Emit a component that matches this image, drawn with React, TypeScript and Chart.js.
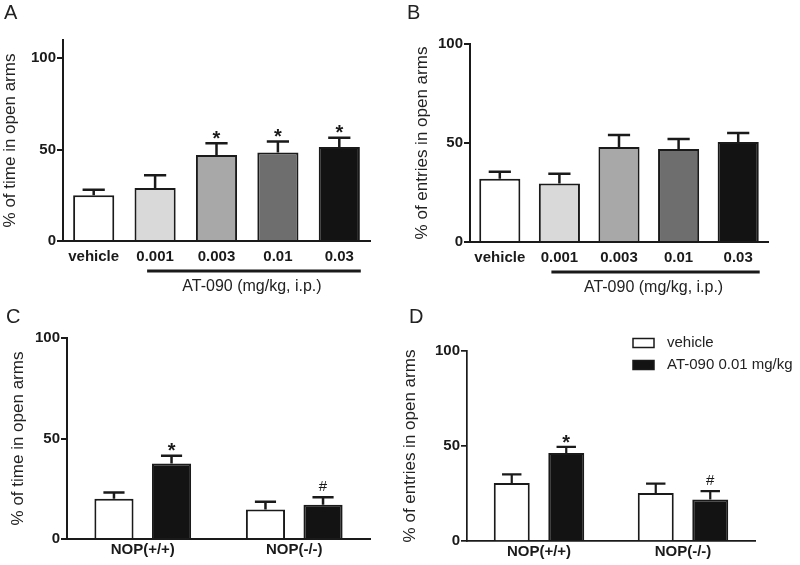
import React, { useEffect, useRef } from 'react';
import { Chart, registerables } from 'chart.js';

Chart.register(...registerables);

// ---------- data ----------
const doseLabels = ['vehicle', '0.001', '0.003', '0.01', '0.03'];
const doseColors = ['#ffffff', '#d9d9d9', '#a8a8a8', '#6e6e6e', '#131313'];

const timeMeans = [25, 29, 47, 48.5, 51.5];
const timeSem = [3, 7, 6.5, 6, 5];
const timeMarks = ['', '', '*', '*', '*'];

const entryMeans = [32, 29.5, 48, 47, 50.5];
const entrySem = [3.5, 5, 6, 5, 4.5];
const entryMarks = ['', '', '', '', ''];

const genotypeLabels = ['NOP(+/+)', 'NOP(-/-)'];
const groupNames = ['vehicle', 'AT-090 0.01 mg/kg'];
const groupColors = ['#ffffff', '#131313'];

const genoTimeVehicle = [20, 14.7];
const genoTimeVehicleSem = [3.1, 3.8];
const genoTimeAT = [37.6, 17];
const genoTimeATSem = [3.8, 3.8];

const genoEntryVehicle = [30.5, 25.3];
const genoEntryVehicleSem = [4.6, 4.9];
const genoEntryAT = [46.3, 21.9];
const genoEntryATSem = [3.2, 4.3];

const genoVehicleMarks = ['', ''];
const genoATMarks = ['*', '#'];

const yTicks = [0, 50, 100];
const doseAxisTitle = 'AT-090 (mg/kg, i.p.)';

// ---------- style ----------
const INK = '#1a1a1a';
const FONT = "'Liberation Sans', Arial, Helvetica, sans-serif";
const W = 800;
const H = 565;
const XH = 30;

type Panel = {
  letter: string; letterX: number; letterY: number;
  scaleLeft: number; axisX: number; right: number; top: number; bottom: number;
  yMax: number; title: string; xPad: number; lw: number;
  doseBar: boolean; legend: boolean;
  catPct: number; barPct: number;
};

function annotPlugin(p: Panel) {
  return {
    id: 'annot' + p.letter,
    afterDatasetsDraw(chart: any) {
      const ctx = chart.ctx;
      const y = chart.scales.y;
      ctx.save();
      ctx.strokeStyle = INK;
      ctx.lineWidth = p.lw + 0.5;
      ctx.lineCap = 'butt';
      chart.data.datasets.forEach((ds: any, di: number) => {
        const meta = chart.getDatasetMeta(di);
        meta.data.forEach((bar: any, i: number) => {
          const v = ds.data[i];
          const e = ds.sem[i];
          const x = bar.x;
          const w = bar.width;
          const yTop = y.getPixelForValue(v);
          const yErr = y.getPixelForValue(v + e);
          ctx.beginPath();
          ctx.moveTo(x, yTop);
          ctx.lineTo(x, yErr);
          ctx.moveTo(x - w * 0.27, yErr);
          ctx.lineTo(x + w * 0.27, yErr);
          ctx.stroke();
          const m = ds.marks ? ds.marks[i] : '';
          if (m) {
            ctx.fillStyle = INK;
            ctx.textAlign = 'center';
            ctx.textBaseline = 'alphabetic';
            if (m === '*') {
              const fs = 20;
              ctx.font = `bold ${fs}px ${FONT}`;
              ctx.fillText(m, x, yErr - 10 + 0.58 * fs);
            } else {
              const fs = 15;
              ctx.font = `${fs}px ${FONT}`;
              ctx.fillText(m, x, yErr - 12 + 0.36 * fs);
            }
          }
        });
      });
      ctx.restore();
    },
    afterDraw(chart: any) {
      const ctx = chart.ctx;
      const xs = chart.scales.x;
      ctx.save();
      ctx.fillStyle = '#222';
      ctx.textBaseline = 'alphabetic';
      ctx.textAlign = 'left';
      ctx.font = `20px ${FONT}`;
      ctx.fillText(p.letter, p.letterX, p.letterY);
      if (p.doseBar) {
        const x1 = xs.getPixelForValue(1) - 8;
        const x2 = xs.getPixelForValue(4) + 21.5;
        const yl = p.bottom + 30;
        ctx.strokeStyle = INK;
        ctx.lineWidth = 3;
        ctx.beginPath();
        ctx.moveTo(x1, yl);
        ctx.lineTo(x2, yl);
        ctx.stroke();
        ctx.font = `16px ${FONT}`;
        ctx.textAlign = 'center';
        ctx.fillStyle = '#222';
        ctx.fillText(doseAxisTitle, (x1 + x2) / 2 - 2, p.bottom + 50);
      }
      if (p.legend) {
        const bx = 633;
        const rows = [343, 365];
        groupNames.forEach((name, i) => {
          const cy = rows[i];
          ctx.fillStyle = groupColors[i];
          ctx.fillRect(bx, cy - 4.5, 21, 9);
          ctx.strokeStyle = INK;
          ctx.lineWidth = 1.5;
          ctx.strokeRect(bx, cy - 4.5, 21, 9);
          ctx.fillStyle = '#222';
          ctx.font = `15px ${FONT}`;
          ctx.textAlign = 'left';
          ctx.textBaseline = 'middle';
          ctx.fillText(name, 667, cy);
        });
      }
      ctx.restore();
    },
  };
}

function makeConfig(p: Panel, labels: string[], datasets: any[]) {
  return {
    type: 'bar',
    data: { labels, datasets },
    options: {
      responsive: false,
      animation: false,
      events: [],
      layout: {
        padding: { left: p.scaleLeft, top: p.top, right: W - p.right, bottom: H - p.bottom - XH },
      },
      datasets: { bar: { categoryPercentage: p.catPct, barPercentage: p.barPct } },
      plugins: { legend: { display: false }, tooltip: { enabled: false } },
      scales: {
        x: {
          grid: { display: false, drawTicks: false },
          border: { display: true, color: INK, width: p.lw },
          ticks: {
            color: INK, padding: p.xPad, maxRotation: 0, autoSkip: false,
            font: { family: FONT, size: 15, weight: 'bold' },
          },
          afterFit: (s: any) => { s.height = XH; },
        },
        y: {
          min: 0,
          max: p.yMax,
          afterBuildTicks: (s: any) => { s.ticks = yTicks.map((v) => ({ value: v })); },
          grid: { display: true, drawOnChartArea: false, drawTicks: true, tickLength: 6, color: INK, lineWidth: p.lw },
          border: { display: true, color: INK, width: p.lw },
          ticks: { color: INK, padding: 1, font: { family: FONT, size: 15, weight: 'bold' } },
          title: { display: true, text: p.title, color: '#222', padding: 0, font: { family: FONT, size: 17 } },
          afterFit: (s: any) => { s.width = p.axisX - p.scaleLeft; },
        },
      },
    },
    plugins: [annotPlugin(p)],
  };
}

const panelA: Panel = {
  letter: 'A', letterX: 4, letterY: 19, scaleLeft: 0, axisX: 63, right: 370, top: 40, bottom: 241,
  yMax: 110, title: '% of time in open arms', xPad: 7, lw: 2, doseBar: true, legend: false, catPct: 1, barPct: 0.67,
};
const panelB: Panel = {
  letter: 'B', letterX: 407, letterY: 19, scaleLeft: 412, axisX: 470, right: 768, top: 44, bottom: 242,
  yMax: 100, title: '% of entries in open arms', xPad: 7, lw: 2, doseBar: true, legend: false, catPct: 1, barPct: 0.69,
};
const panelC: Panel = {
  letter: 'C', letterX: 6, letterY: 323, scaleLeft: 8, axisX: 67, right: 370, top: 338, bottom: 539,
  yMax: 100, title: '% of time in open arms', xPad: 2, lw: 2, doseBar: false, legend: false, catPct: 0.76, barPct: 0.68,
};
const panelD: Panel = {
  letter: 'D', letterX: 409, letterY: 323, scaleLeft: 400, axisX: 467, right: 755, top: 351, bottom: 541,
  yMax: 100, title: '% of entries in open arms', xPad: 2, lw: 1.7, doseBar: false, legend: true, catPct: 0.757, barPct: 0.66,
};

function doseDataset(means: number[], sem: number[], marks: string[]) {
  return {
    data: means, sem, marks,
    backgroundColor: doseColors, borderColor: INK, borderWidth: 2, borderSkipped: 'bottom',
  };
}

function genoDatasets(v: number[], vs: number[], a: number[], as: number[]) {
  return [
    { label: groupNames[0], data: v, sem: vs, marks: genoVehicleMarks, backgroundColor: groupColors[0], borderColor: INK, borderWidth: 2, borderSkipped: 'bottom' },
    { label: groupNames[1], data: a, sem: as, marks: genoATMarks, backgroundColor: groupColors[1], borderColor: INK, borderWidth: 2, borderSkipped: 'bottom' },
  ];
}

export default function App() {
  const refA = useRef<HTMLCanvasElement>(null);
  const refB = useRef<HTMLCanvasElement>(null);
  const refC = useRef<HTMLCanvasElement>(null);
  const refD = useRef<HTMLCanvasElement>(null);

  useEffect(() => {
    const charts: Chart[] = [];
    const cfgs: [React.RefObject<HTMLCanvasElement>, any][] = [
      [refA, makeConfig(panelA, doseLabels, [doseDataset(timeMeans, timeSem, timeMarks)])],
      [refB, makeConfig(panelB, doseLabels, [doseDataset(entryMeans, entrySem, entryMarks)])],
      [refC, makeConfig(panelC, genotypeLabels, genoDatasets(genoTimeVehicle, genoTimeVehicleSem, genoTimeAT, genoTimeATSem))],
      [refD, makeConfig(panelD, genotypeLabels, genoDatasets(genoEntryVehicle, genoEntryVehicleSem, genoEntryAT, genoEntryATSem))],
    ];
    cfgs.forEach(([r, cfg]) => {
      if (r.current) charts.push(new Chart(r.current, cfg));
    });
    return () => charts.forEach((c) => c.destroy());
  }, []);

  const cs: React.CSSProperties = { position: 'absolute', left: 0, top: 0, width: W, height: H };
  return (
    <div style={{ position: 'fixed', left: 0, top: 0, width: W, height: H, background: '#fff' }}>
      <canvas ref={refA} width={W} height={H} style={cs} />
      <canvas ref={refB} width={W} height={H} style={cs} />
      <canvas ref={refC} width={W} height={H} style={cs} />
      <canvas ref={refD} width={W} height={H} style={cs} />
    </div>
  );
}
